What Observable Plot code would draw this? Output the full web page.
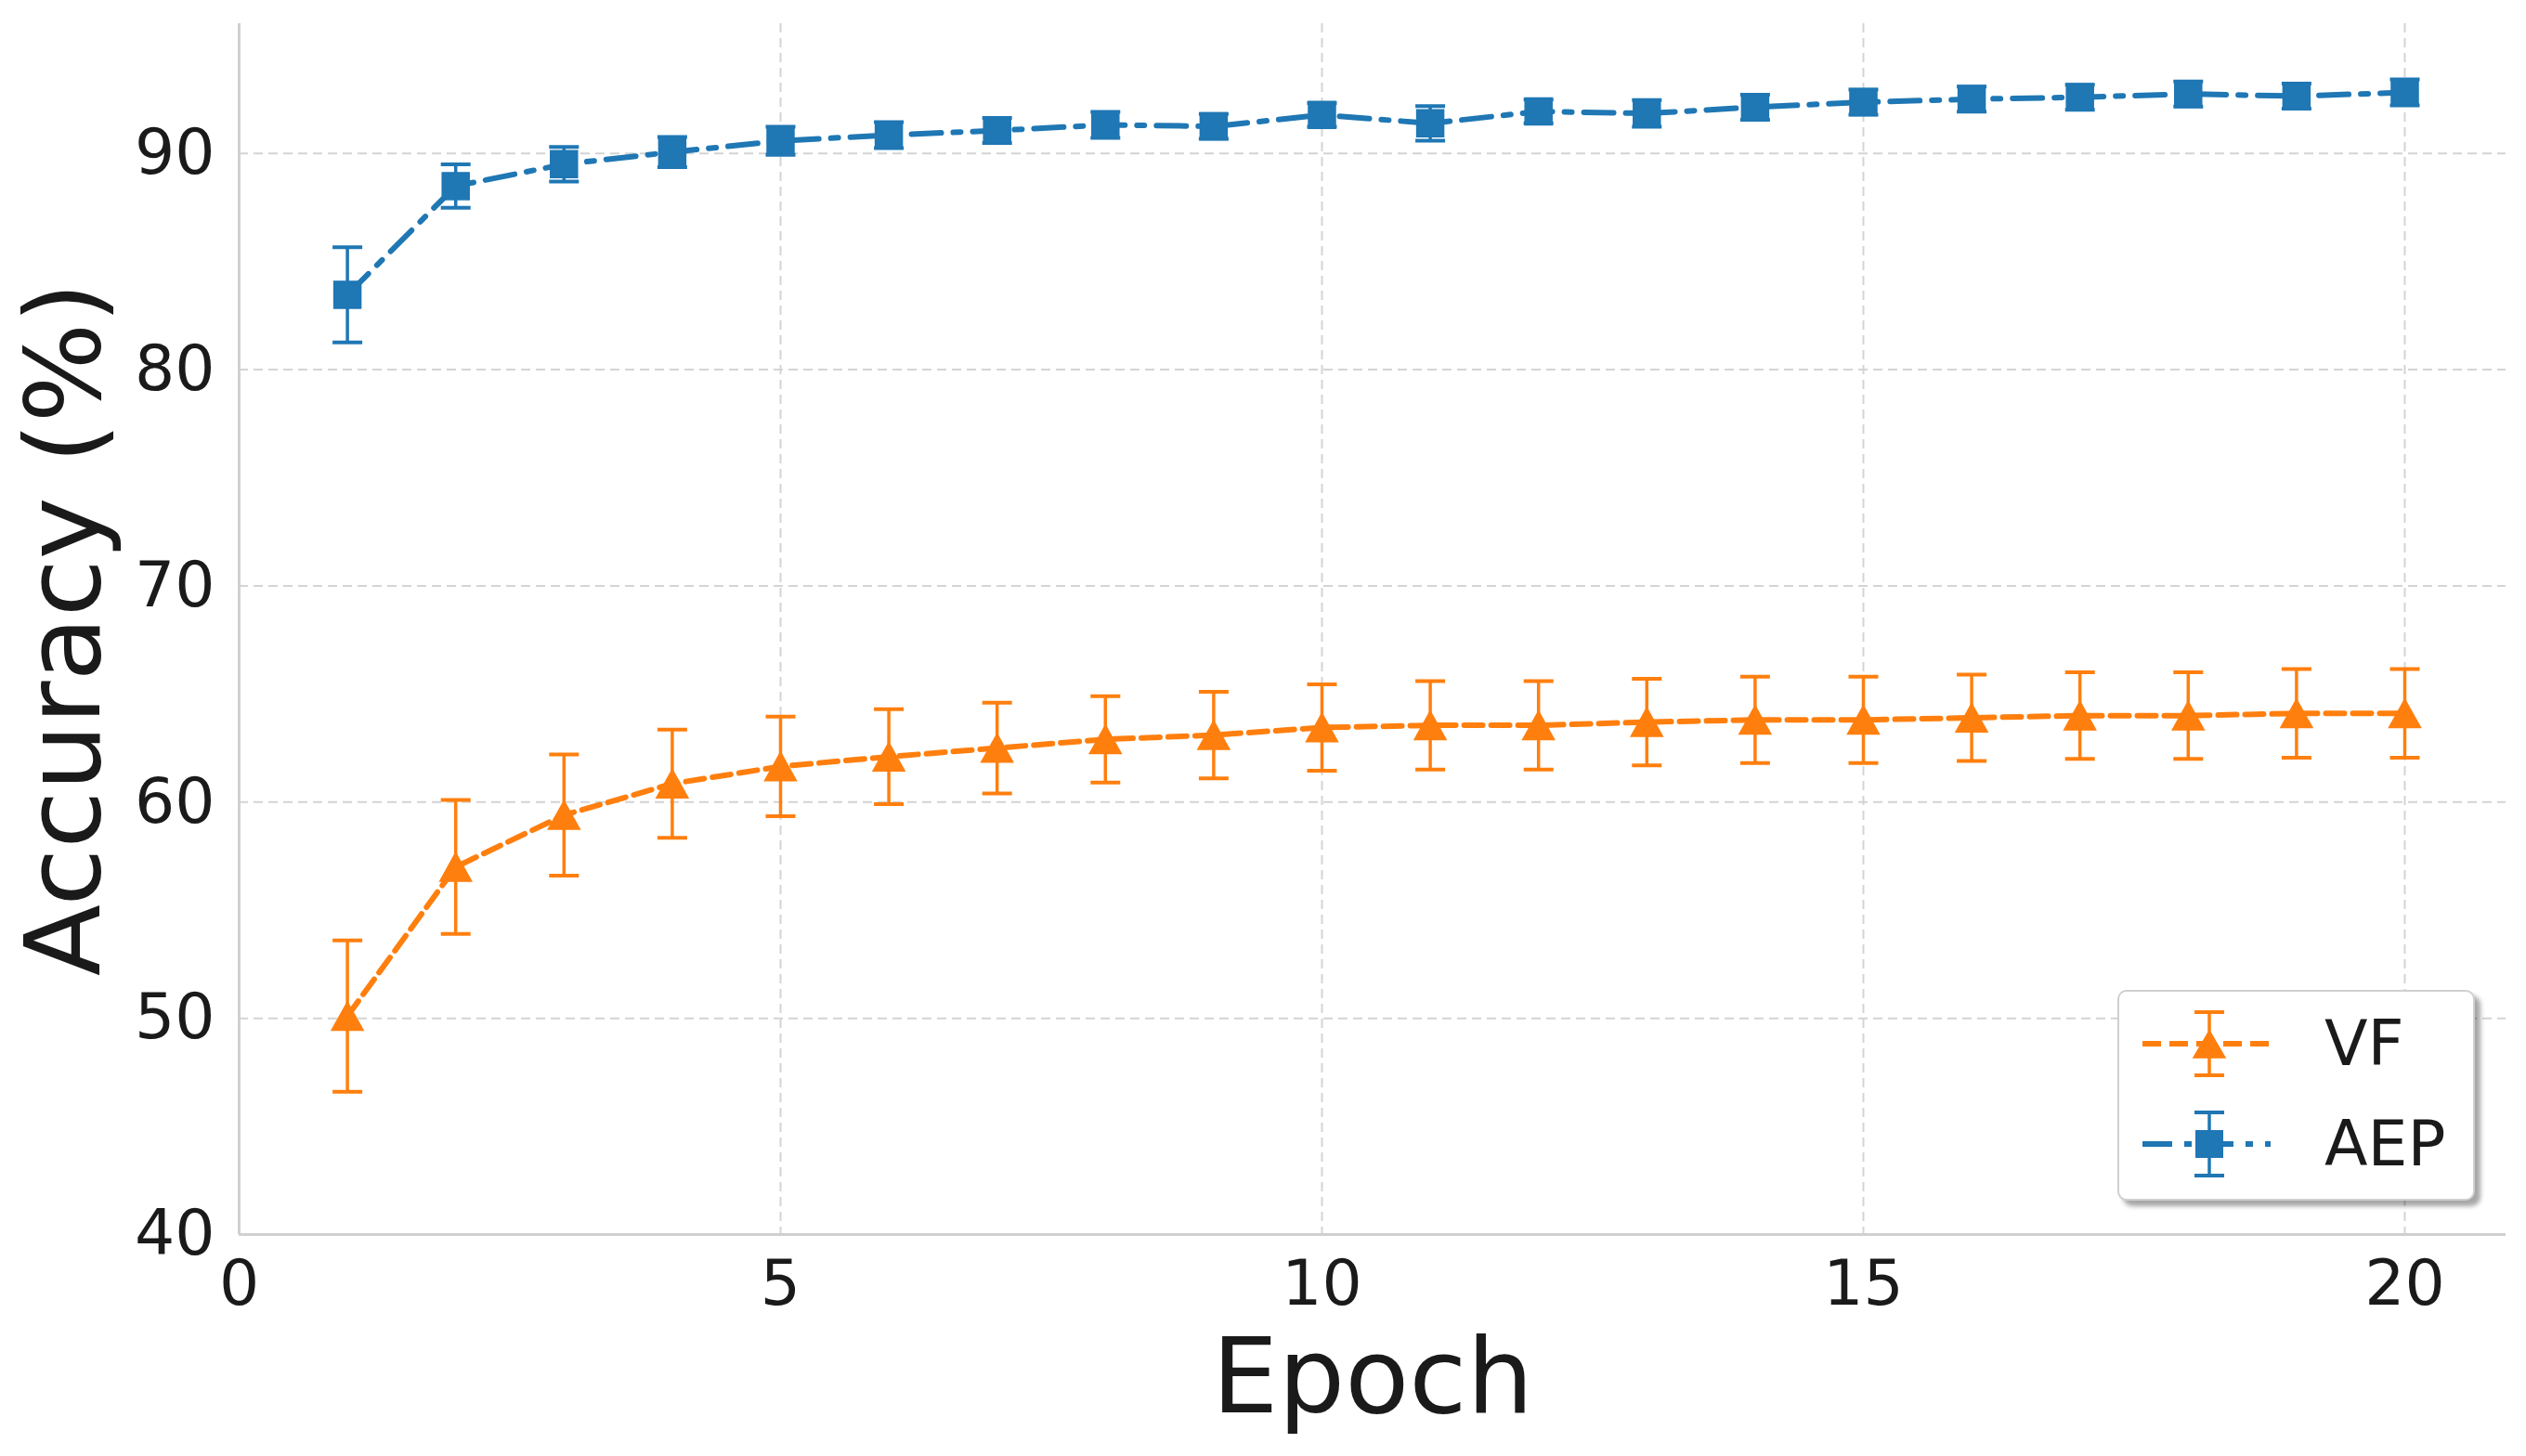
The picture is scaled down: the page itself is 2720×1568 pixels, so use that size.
<!DOCTYPE html>
<html>
<head>
<meta charset="utf-8">
<script src="https://cdn.jsdelivr.net/npm/d3@7"></script>
<script src="https://cdn.jsdelivr.net/npm/@observablehq/plot@0.6"></script>
<style>
  html, body { margin: 0; padding: 0; background: #ffffff; }
  #wrap { position: relative; width: 2720px; height: 1568px; background: #ffffff; font-family: "DejaVu Sans", sans-serif; }
  #legend { position: absolute; left: 2280px; top: 1066px; width: 385px; height: 227px;
            border: 2px solid #cfcfcf; border-radius: 10px; background: #ffffff;
            box-shadow: 6px 6px 5px rgba(0,0,0,0.35); box-sizing: border-box; }
  .lg-row { position: absolute; left: 0; height: 100px; width: 100%; }
  .lg-row svg { position: absolute; left: 0; top: 0; }
  .lg-row span { position: absolute; left: 221px; top: 50%; transform: translateY(-50%);
                 font-size: 68px; color: #1a1a1a; line-height: 1; }
</style>
</head>
<body>
<div id="wrap">
  <div id="chart"></div>
  <div id="legend"></div>
</div>
<script>
// ---- data ----
const epochs   = [1, 2, 3, 4, 5, 6, 7, 8, 9, 10, 11, 12, 13, 14, 15, 16, 17, 18, 19, 20];
const vfMean   = [50.1, 57.0, 59.4, 60.85, 61.65, 62.1, 62.5, 62.9, 63.1, 63.45, 63.55, 63.55, 63.7, 63.8, 63.8, 63.9, 64.0, 64.0, 64.1, 64.1];
const vfErr    = [3.5, 3.1, 2.8, 2.5, 2.3, 2.2, 2.1, 2.0, 2.0, 2.0, 2.05, 2.05, 2.0, 2.0, 2.0, 2.0, 2.0, 2.0, 2.05, 2.05];
const aepMean  = [83.46, 88.49, 89.5, 90.06, 90.58, 90.85, 91.06, 91.32, 91.25, 91.78, 91.39, 91.94, 91.85, 92.14, 92.37, 92.51, 92.6, 92.75, 92.65, 92.82];
const aepErr   = [2.2, 1.0, 0.8, 0.7, 0.65, 0.6, 0.58, 0.6, 0.57, 0.55, 0.8, 0.55, 0.62, 0.58, 0.58, 0.58, 0.58, 0.58, 0.58, 0.6];
const seriesNames = ["VF", "AEP"];
const xTicks = [0, 5, 10, 15, 20];
const yTicks = [40, 50, 60, 70, 80, 90];
const xLabel = "Epoch";
const yLabel = "Accuracy (%)";

// ---- styles ----
const colors = {VF: "#ff7f0e", AEP: "#1f77b4"};
const dashes = {VF: "20,9", AEP: "32,13,8,13"};

const vfData  = epochs.map((e, i) => ({epoch: e, mean: vfMean[i],  lo: vfMean[i] - vfErr[i],  hi: vfMean[i] + vfErr[i]}));
const aepData = epochs.map((e, i) => ({epoch: e, mean: aepMean[i], lo: aepMean[i] - aepErr[i], hi: aepMean[i] + aepErr[i]}));

// custom symbols
const capSymbol = {draw(ctx, size) { const r = Math.sqrt(size / Math.PI); ctx.moveTo(-r, 0); ctx.lineTo(r, 0); }};
const triSymbol = {draw(ctx, size) { const r = Math.sqrt(size / Math.PI); ctx.moveTo(0, -r * 0.9); ctx.lineTo(r, r * 0.9); ctx.lineTo(-r, r * 0.9); ctx.closePath(); }};
const sqSymbol  = {draw(ctx, size) { const r = Math.sqrt(size / Math.PI); ctx.rect(-r, -r, 2 * r, 2 * r); }};

function seriesMarks(data, name, symbol, r) {
  const c = colors[name];
  return [
    Plot.line(data, {x: "epoch", y: "mean", stroke: c, strokeWidth: 6, strokeDasharray: dashes[name]}),
    Plot.ruleX(data, {x: "epoch", y1: "lo", y2: "hi", stroke: c, strokeWidth: 3.5}),
    Plot.dot(data, {x: "epoch", y: "lo", symbol: capSymbol, r: 16, stroke: c, strokeWidth: 4, fill: "none"}),
    Plot.dot(data, {x: "epoch", y: "hi", symbol: capSymbol, r: 16, stroke: c, strokeWidth: 4, fill: "none"}),
    Plot.dot(data, {x: "epoch", y: "mean", symbol, r, fill: c, stroke: c, strokeWidth: 1.5})
  ];
}

const chart = Plot.plot({
  width: 2720,
  height: 1568,
  marginLeft: 257,
  marginRight: 22,
  marginTop: 25,
  marginBottom: 239,
  style: {fontFamily: "DejaVu Sans", fontSize: "68px", color: "#1a1a1a", background: "#ffffff", overflow: "visible"},
  x: {domain: [0, 20.935]},
  y: {domain: [40, 96]},
  marks: [
    Plot.gridX(xTicks, {stroke: "#d4d4d4", strokeOpacity: 1, strokeWidth: 2, strokeDasharray: "10,6"}),
    Plot.gridY(yTicks, {stroke: "#d4d4d4", strokeOpacity: 1, strokeWidth: 2, strokeDasharray: "10,6"}),
    Plot.ruleX([xTicks[0]], {stroke: "#d0d0d0", strokeWidth: 3}),
    Plot.ruleY([yTicks[0]], {stroke: "#d0d0d0", strokeWidth: 3}),
    Plot.axisX({ticks: xTicks, tickSize: 0, tickPadding: 27, label: null, fontSize: 68}),
    Plot.axisY({ticks: yTicks, tickSize: 0, tickPadding: 26, label: null, fontSize: 68}),
    Plot.text([xLabel], {frameAnchor: "bottom", dy: 155, lineAnchor: "middle", textAnchor: "middle", fontSize: 113, fill: "#1a1a1a"}),
    Plot.text([yLabel], {frameAnchor: "left", dx: -187, rotate: -90, lineAnchor: "middle", textAnchor: "middle", fontSize: 113, fill: "#1a1a1a"}),
    ...seriesMarks(vfData, "VF", triSymbol, 17),
    ...seriesMarks(aepData, "AEP", sqSymbol, 14.5)
  ]
});
document.getElementById("chart").append(chart);

// ---- legend ----
const legend = document.getElementById("legend");
const rowCenters = [56, 164];
const legendSymbols = {VF: "tri", AEP: "sq"};
seriesNames.forEach((name, i) => {
  const c = colors[name];
  const row = document.createElement("div");
  row.className = "lg-row";
  row.style.top = (rowCenters[i] - 50) + "px";
  const marker = legendSymbols[name] === "tri"
    ? `<path d="M97,36 L114,65 L80,65 Z" fill="${c}" stroke="${c}" stroke-width="1.5"/>`
    : `<rect x="82" y="35" width="30" height="30" fill="${c}"/>`;
  row.innerHTML = `<svg width="200" height="100" viewBox="0 0 200 100">
      <line x1="25" y1="50" x2="163" y2="50" stroke="${c}" stroke-width="6" stroke-dasharray="${dashes[name]}"/>
      <line x1="97" y1="16" x2="97" y2="84" stroke="${c}" stroke-width="3.5"/>
      <line x1="81" y1="16" x2="113" y2="16" stroke="${c}" stroke-width="4"/>
      <line x1="81" y1="84" x2="113" y2="84" stroke="${c}" stroke-width="4"/>
      ${marker}
    </svg><span>${name}</span>`;
  legend.append(row);
});
</script>
</body>
</html>
